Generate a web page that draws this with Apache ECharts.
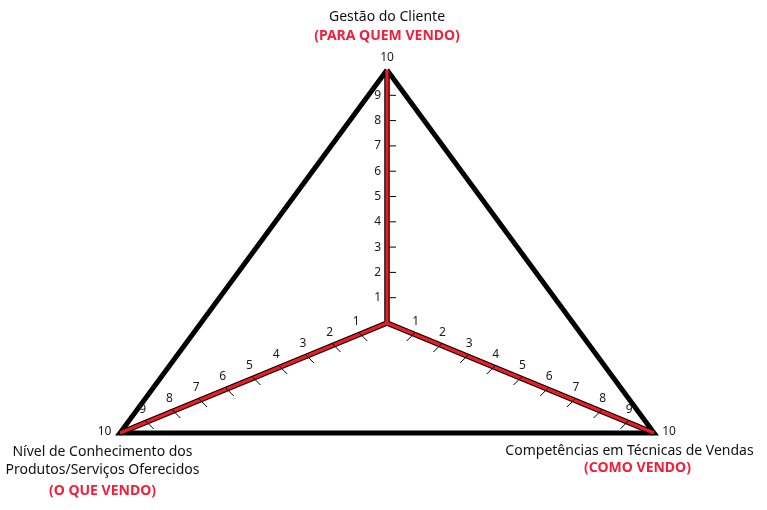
<!DOCTYPE html>
<html>
<head>
<meta charset="utf-8">
<script src="https://cdn.jsdelivr.net/npm/echarts@6/dist/echarts.min.js"></script>
<style>
html,body{margin:0;padding:0;background:#fff;}
#chart{width:767px;height:510px;}
</style>
</head>
<body>
<div id="chart"></div>
<script>
// ---- data ----
const categories = ['Gestão do Cliente', 'Competências em Técnicas de Vendas', 'Nível de Conhecimento dos\nProdutos/Serviços Oferecidos'];
const subtitles = ['(PARA QUEM VENDO)', '(COMO VENDO)', '(O QUE VENDO)'];
const scores = [10, 10, 10];
const tickValues = [1, 2, 3, 4, 5, 6, 7, 8, 9, 10];
const axisMax = 10;

// ---- layout (geometry of the three axes, in chart units; style only) ----
const layout = {
  xRange: [-387, 380],
  yRange: [-187, 323],
  axisEnds: [[0, 253], [267, -110], [-267, -110]],
  tick: [[[2, 0], [9, 0]], [[1, -1], [-7, 7]], [[-1, -1], [7, 7]]],
  tickLabel: [{dx: -6, dy: 0, align: 'right'}, {dx: 2, dy: -12, align: 'center'}, {dx: -4, dy: -12, align: 'center'}],
  maxLabel: [{dx: 0, dy: -12}, {dx: 15, dy: -1}, {dx: -15.5, dy: -1}],
  catLines: [
    [{dx: 0, dy: -53}, {dx: 0, dy: -34}],
    [{dx: -24.5, dy: 18}, {dx: -16.5, dy: 35}],
    [{dx: -17.5, dy: 19}, {dx: -17.5, dy: 37}, {dx: -17.5, dy: 58}]
  ]
};
const FONT = '"Noto Sans", "Open Sans", sans-serif';
const RED = '#ed1c24';
const TEXT_RED = '#f0203a';

function pos(i, v) {
  return [layout.axisEnds[i][0] * v / axisMax, layout.axisEnds[i][1] * v / axisMax];
}

const triangle = scores.map((s, i) => pos(i, s));
triangle.push(triangle[0]);

const axisSeries = [];
categories.forEach((c, i) => {
  const d = [pos(i, 0), pos(i, axisMax)];
  axisSeries.push({type: 'line', data: d, symbol: 'none', silent: true, z: 3,
    lineStyle: {color: '#000', width: 5.5, cap: 'butt'}});
  axisSeries.push({type: 'line', data: d, symbol: 'none', silent: true, z: 4,
    lineStyle: {color: RED, width: 3.2, cap: 'butt'}});
});

const tickData = [];
categories.forEach((c, i) => tickValues.forEach(v => tickData.push([i, v])));

const chart = echarts.init(document.getElementById('chart'), null, {renderer: 'canvas'});
chart.setOption({
  animation: false,
  backgroundColor: '#fff',
  grid: {left: 0, right: 0, top: 0, bottom: 0},
  xAxis: {type: 'value', min: layout.xRange[0], max: layout.xRange[1], show: false},
  yAxis: {type: 'value', min: layout.yRange[0], max: layout.yRange[1], show: false},
  series: [
    {type: 'line', data: triangle, symbol: 'none', silent: true, z: 2,
      lineStyle: {color: '#000', width: 5, join: 'miter', miterLimit: 10}},
    ...axisSeries,
    {
      type: 'custom', z: 5, silent: true,
      data: tickData,
      renderItem: function (params, api) {
        const i = api.value(0), v = api.value(1);
        const p = api.coord(pos(i, v));
        const children = [];
        if (v < axisMax) {
          const t = layout.tick[i];
          children.push({type: 'line', shape: {x1: p[0] + t[0][0], y1: p[1] + t[0][1], x2: p[0] + t[1][0], y2: p[1] + t[1][1]},
            style: {stroke: '#000', lineWidth: 1}});
          const l = layout.tickLabel[i];
          children.push({type: 'text', x: p[0] + l.dx, y: p[1] + l.dy,
            style: {text: String(v), fill: '#1a1a1a', fontSize: 12, fontFamily: FONT, align: l.align, verticalAlign: 'middle'}});
        } else {
          const l = layout.maxLabel[i];
          children.push({type: 'text', x: p[0] + l.dx, y: p[1] + l.dy,
            style: {text: String(v), fill: '#1a1a1a', fontSize: 12, fontFamily: FONT, align: 'center', verticalAlign: 'middle'}});
        }
        return {type: 'group', children: children};
      }
    },
    {
      type: 'custom', z: 6, silent: true,
      data: categories.map((c, i) => [i, axisMax]),
      renderItem: function (params, api) {
        const i = api.value(0);
        const p = api.coord(pos(i, api.value(1)));
        const lines = categories[i].split('\n');
        const children = [];
        layout.catLines[i].forEach((o, k) => {
          const isSub = k >= lines.length;
          children.push({type: 'text', x: p[0] + o.dx, y: p[1] + o.dy,
            style: {text: isSub ? subtitles[i] : lines[k], fill: isSub ? TEXT_RED : '#111',
              fontSize: 14, fontWeight: isSub ? 'bold' : 'normal', fontFamily: FONT,
              align: 'center', verticalAlign: 'middle'}});
        });
        return {type: 'group', children: children};
      }
    }
  ]
});
</script>
</body>
</html>
